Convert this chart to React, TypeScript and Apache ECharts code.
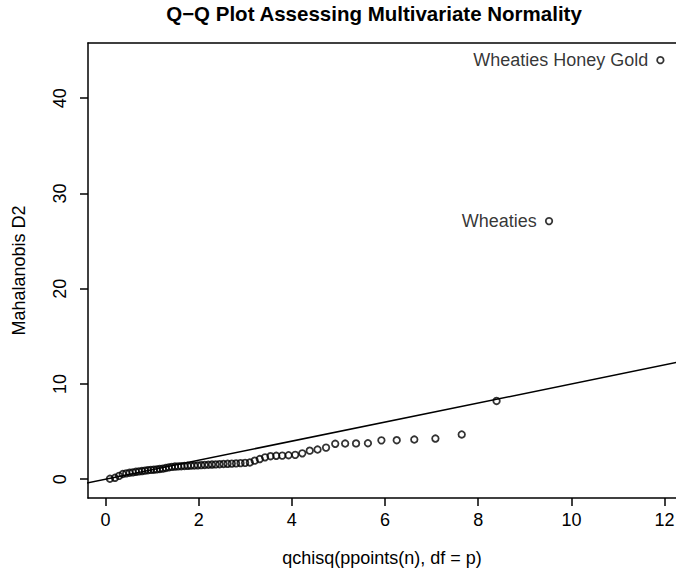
import React, { useEffect, useRef } from "react";
import * as echarts from "echarts";

// Theoretical chi-square quantiles, qchisq(ppoints(n), df = p)
const chisqQuantiles: number[] = [
  0.096, 0.204, 0.292, 0.371, 0.445, 0.516, 0.585, 0.652, 0.718, 0.783,
  0.848, 0.911, 0.975, 1.038, 1.101, 1.166, 1.23, 1.294, 1.359, 1.424,
  1.491, 1.558, 1.626, 1.694, 1.764, 1.834, 1.906, 1.98, 2.054, 2.13,
  2.208, 2.286, 2.366, 2.45, 2.534, 2.621, 2.711, 2.803, 2.899, 2.997,
  3.098, 3.203, 3.312, 3.425, 3.543, 3.665, 3.794, 3.93, 4.072, 4.224,
  4.384, 4.552, 4.734, 4.931, 5.144, 5.378, 5.633, 5.922, 6.251, 6.628,
  7.081, 7.646, 8.394, 9.52, 11.91,
];

// Sorted Mahalanobis squared distances
const mahalanobisD2: number[] = [
  0.05, 0.15, 0.35, 0.55, 0.62, 0.68, 0.72, 0.78, 0.82, 0.86,
  0.9, 0.95, 0.98, 1.0, 1.03, 1.08, 1.12, 1.18, 1.25, 1.3,
  1.33, 1.35, 1.37, 1.39, 1.41, 1.43, 1.44, 1.46, 1.48, 1.5,
  1.52, 1.54, 1.56, 1.58, 1.6, 1.62, 1.64, 1.66, 1.69, 1.72,
  1.76, 1.95, 2.12, 2.3, 2.42, 2.46, 2.48, 2.52, 2.56, 2.72,
  3.0, 3.12, 3.32, 3.72, 3.75, 3.76, 3.78, 4.08, 4.1, 4.17,
  4.27, 4.7, 8.22, 27.1, 44.0,
];

// Labels for the two most extreme observations (by rank index)
const pointLabels: { index: number; name: string }[] = [
  { index: 63, name: "Wheaties" },
  { index: 64, name: "Wheaties Honey Gold" },
];

const xTicks: number[] = [0, 2, 4, 6, 8, 10, 12];
const yTicks: number[] = [0, 10, 20, 30, 40];

// Reference line y = intercept + slope * x
const refIntercept = 0;
const refSlope = 1;
const refXRange: number[] = [-1, 13];

const FONT = "'Liberation Sans', Arial, Helvetica, sans-serif";
const X_MIN = -0.375;
const X_MAX = 12.245;

export default function App() {
  const ref = useRef<HTMLDivElement>(null);

  useEffect(() => {
    if (!ref.current) return;
    const chart = echarts.init(ref.current, null, { renderer: "svg" });

    const labelMap = new Map(pointLabels.map((p) => [p.index, p.name]));
    const scatterData = chisqQuantiles.map((x, i) => {
      const name = labelMap.get(i);
      return name
        ? {
            value: [x, mahalanobisD2[i]],
            name,
            label: {
              show: true,
              position: "left",
              distance: 8,
              formatter: name,
              color: "#000",
              fontSize: 18,
              fontFamily: FONT,
            },
          }
        : { value: [x, mahalanobisD2[i]] };
    });

    const lineData = refXRange.map((x) => [x, refIntercept + refSlope * x]);

    chart.setOption({
      animation: false,
      backgroundColor: "#fff",
      title: {
        text: "Q\u2212Q Plot Assessing Multivariate Normality",
        left: 374,
        top: 3,
        padding: 0,
        textAlign: "center",
        textStyle: {
          fontFamily: FONT,
          fontWeight: "bold",
          fontSize: 20.5,
          color: "#000",
        },
      },
      grid: {
        left: 88,
        top: 43,
        bottom: 72,
        right: 0,
        show: false,
        containLabel: false,
        outerBoundsMode: "none",
      },
      xAxis: [
        {
          type: "value",
          min: X_MIN,
          max: X_MAX,
          name: "qchisq(ppoints(n), df = p)",
          nameLocation: "middle",
          nameGap: 51,
          nameTextStyle: { fontFamily: FONT, fontSize: 18, color: "#000" },
          splitLine: { show: false },
          axisLine: { show: true, onZero: false, lineStyle: { color: "#000", width: 1.5 } },
          axisTick: {
            show: true,
            customValues: xTicks,
            length: 8,
            lineStyle: { color: "#000", width: 1.5 },
          },
          axisLabel: {
            show: true,
            customValues: xTicks,
            margin: 13,
            fontFamily: FONT,
            fontSize: 18,
            color: "#000",
          },
        },
        {
          type: "value",
          position: "top",
          min: X_MIN,
          max: X_MAX,
          splitLine: { show: false },
          axisLine: { show: true, onZero: false, lineStyle: { color: "#000", width: 1.5 } },
          axisTick: { show: false },
          axisLabel: { show: false },
        },
      ],
      yAxis: {
        type: "value",
        min: -1.97,
        max: 45.8,
        name: "Mahalanobis D2",
        nameLocation: "middle",
        nameGap: 60,
        nameTextStyle: { fontFamily: FONT, fontSize: 18, color: "#000" },
        splitLine: { show: false },
        axisLine: { show: true, onZero: false, lineStyle: { color: "#000", width: 1.5 } },
        axisTick: {
          show: true,
          customValues: yTicks,
          length: 8,
          lineStyle: { color: "#000", width: 1.5 },
        },
        axisLabel: {
          show: true,
          customValues: yTicks,
          rotate: 90,
          margin: 19,
          fontFamily: FONT,
          fontSize: 18,
          color: "#000",
        },
      },
      series: [
        {
          type: "line",
          xAxisIndex: 0,
          data: lineData,
          showSymbol: false,
          symbol: "none",
          clip: true,
          lineStyle: { color: "#000", width: 1.5 },
          silent: true,
          z: 2,
        },
        {
          type: "scatter",
          xAxisIndex: 0,
          data: scatterData,
          symbol: "circle",
          symbolSize: 6.5,
          clip: false,
          itemStyle: {
            color: "rgba(0,0,0,0)",
            borderColor: "#000",
            borderWidth: 1.8,
          },
          z: 3,
        },
      ],
    });

    return () => chart.dispose();
  }, []);

  return (
    <div
      ref={ref}
      style={{ position: "fixed", left: 0, top: 0, width: 676, height: 570 }}
    />
  );
}
